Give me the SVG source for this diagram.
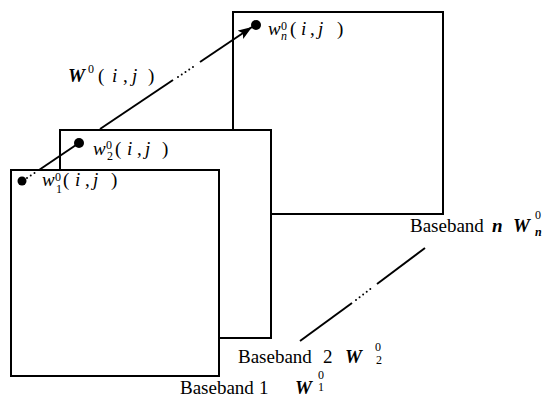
<svg xmlns="http://www.w3.org/2000/svg" width="549" height="409" viewBox="0 0 549 409">
<style>
.box{fill:#fff;stroke:#000;stroke-width:2}
.dot{fill:#000}
text{font-family:"Liberation Serif","Times New Roman",serif;fill:#000}
.t{font-size:19px}
.it{font-style:italic}
.bi{font-style:italic;font-weight:bold}
.s{font-size:12px}
.ln{stroke:#000;stroke-width:2;fill:none}
.dt{stroke:#000;stroke-width:2;fill:none;stroke-dasharray:0 4.5;stroke-linecap:round}
</style>
<defs>
<marker id="ah" markerUnits="userSpaceOnUse" markerWidth="16" markerHeight="12" refX="14" refY="5" orient="auto">
<path d="M0,0 L14,5 L0,10 L3,5 Z" fill="#000"/>
</marker>
</defs>
<g id="baseband-n">
<rect class="box" x="233" y="12" width="210" height="202"/>
<circle class="dot" cx="256" cy="25" r="5"/>
<text class="t" y="35"><tspan class="it" x="268">w</tspan><tspan class="s" x="281" y="30">0</tspan><tspan class="s it" x="281" y="40">n</tspan><tspan x="290" y="35">(</tspan><tspan class="it" x="301">i</tspan><tspan x="310">,</tspan><tspan class="it" x="318">j</tspan><tspan x="337">)</tspan></text>
<text class="t" y="232"><tspan x="410">Baseband</tspan><tspan class="bi" x="492">n</tspan><tspan class="bi" x="513">W</tspan><tspan class="s" x="535" y="219">0</tspan><tspan class="s bi" x="535" y="236">n</tspan></text>
</g>
<g id="baseband-2">
<rect class="box" x="60" y="130" width="211" height="208"/>
<circle class="dot" cx="79" cy="143" r="5"/>
<text class="t" y="155"><tspan class="it" x="93">w</tspan><tspan class="s" x="106" y="149">0</tspan><tspan class="s" x="107" y="160">2</tspan><tspan x="115" y="155">(</tspan><tspan class="it" x="127">i</tspan><tspan x="137">,</tspan><tspan class="it" x="145">j</tspan><tspan x="162">)</tspan></text>
<text class="t" y="363"><tspan x="238">Baseband</tspan><tspan x="323">2</tspan><tspan class="bi" x="345">W</tspan><tspan class="s" x="375" y="351">0</tspan><tspan class="s" x="376" y="364">2</tspan></text>
</g>
<g id="baseband-1">
<rect class="box" x="11" y="170" width="208" height="206"/>
<circle class="dot" cx="22" cy="181" r="4.5"/>
<text class="t" y="186"><tspan class="it" x="42">w</tspan><tspan class="s" x="55" y="181">0</tspan><tspan class="s" x="56" y="193">1</tspan><tspan x="63" y="186">(</tspan><tspan class="it" x="75">i</tspan><tspan x="85">,</tspan><tspan class="it" x="93">j</tspan><tspan x="111">)</tspan></text>
<text class="t" y="394"><tspan x="180">Baseband</tspan><tspan x="259">1</tspan><tspan class="bi" x="295">W</tspan><tspan class="s" x="318" y="379">0</tspan><tspan class="s" x="318" y="391">1</tspan></text>
</g>
<g id="connectors">
<path class="dt" d="M27,178 L36,172"/>
<path class="ln" d="M39,170 L76,145"/>
<path class="ln" d="M100,129 L173,80"/>
<path class="dt" d="M178,77 L196,65"/>
<path class="ln" d="M200,62 L252,27" marker-end="url(#ah)"/>
<path class="ln" d="M300,341 L352,303"/>
<path class="dt" d="M356,300 L373,287"/>
<path class="ln" d="M377,284 L425,248"/>
<text class="t" y="82"><tspan class="bi" x="68">W</tspan><tspan class="s" x="88" y="73">0</tspan><tspan x="98" y="82">(</tspan><tspan class="it" x="112">i</tspan><tspan x="123">,</tspan><tspan class="it" x="132">j</tspan><tspan x="148">)</tspan></text>
</g>
</svg>
